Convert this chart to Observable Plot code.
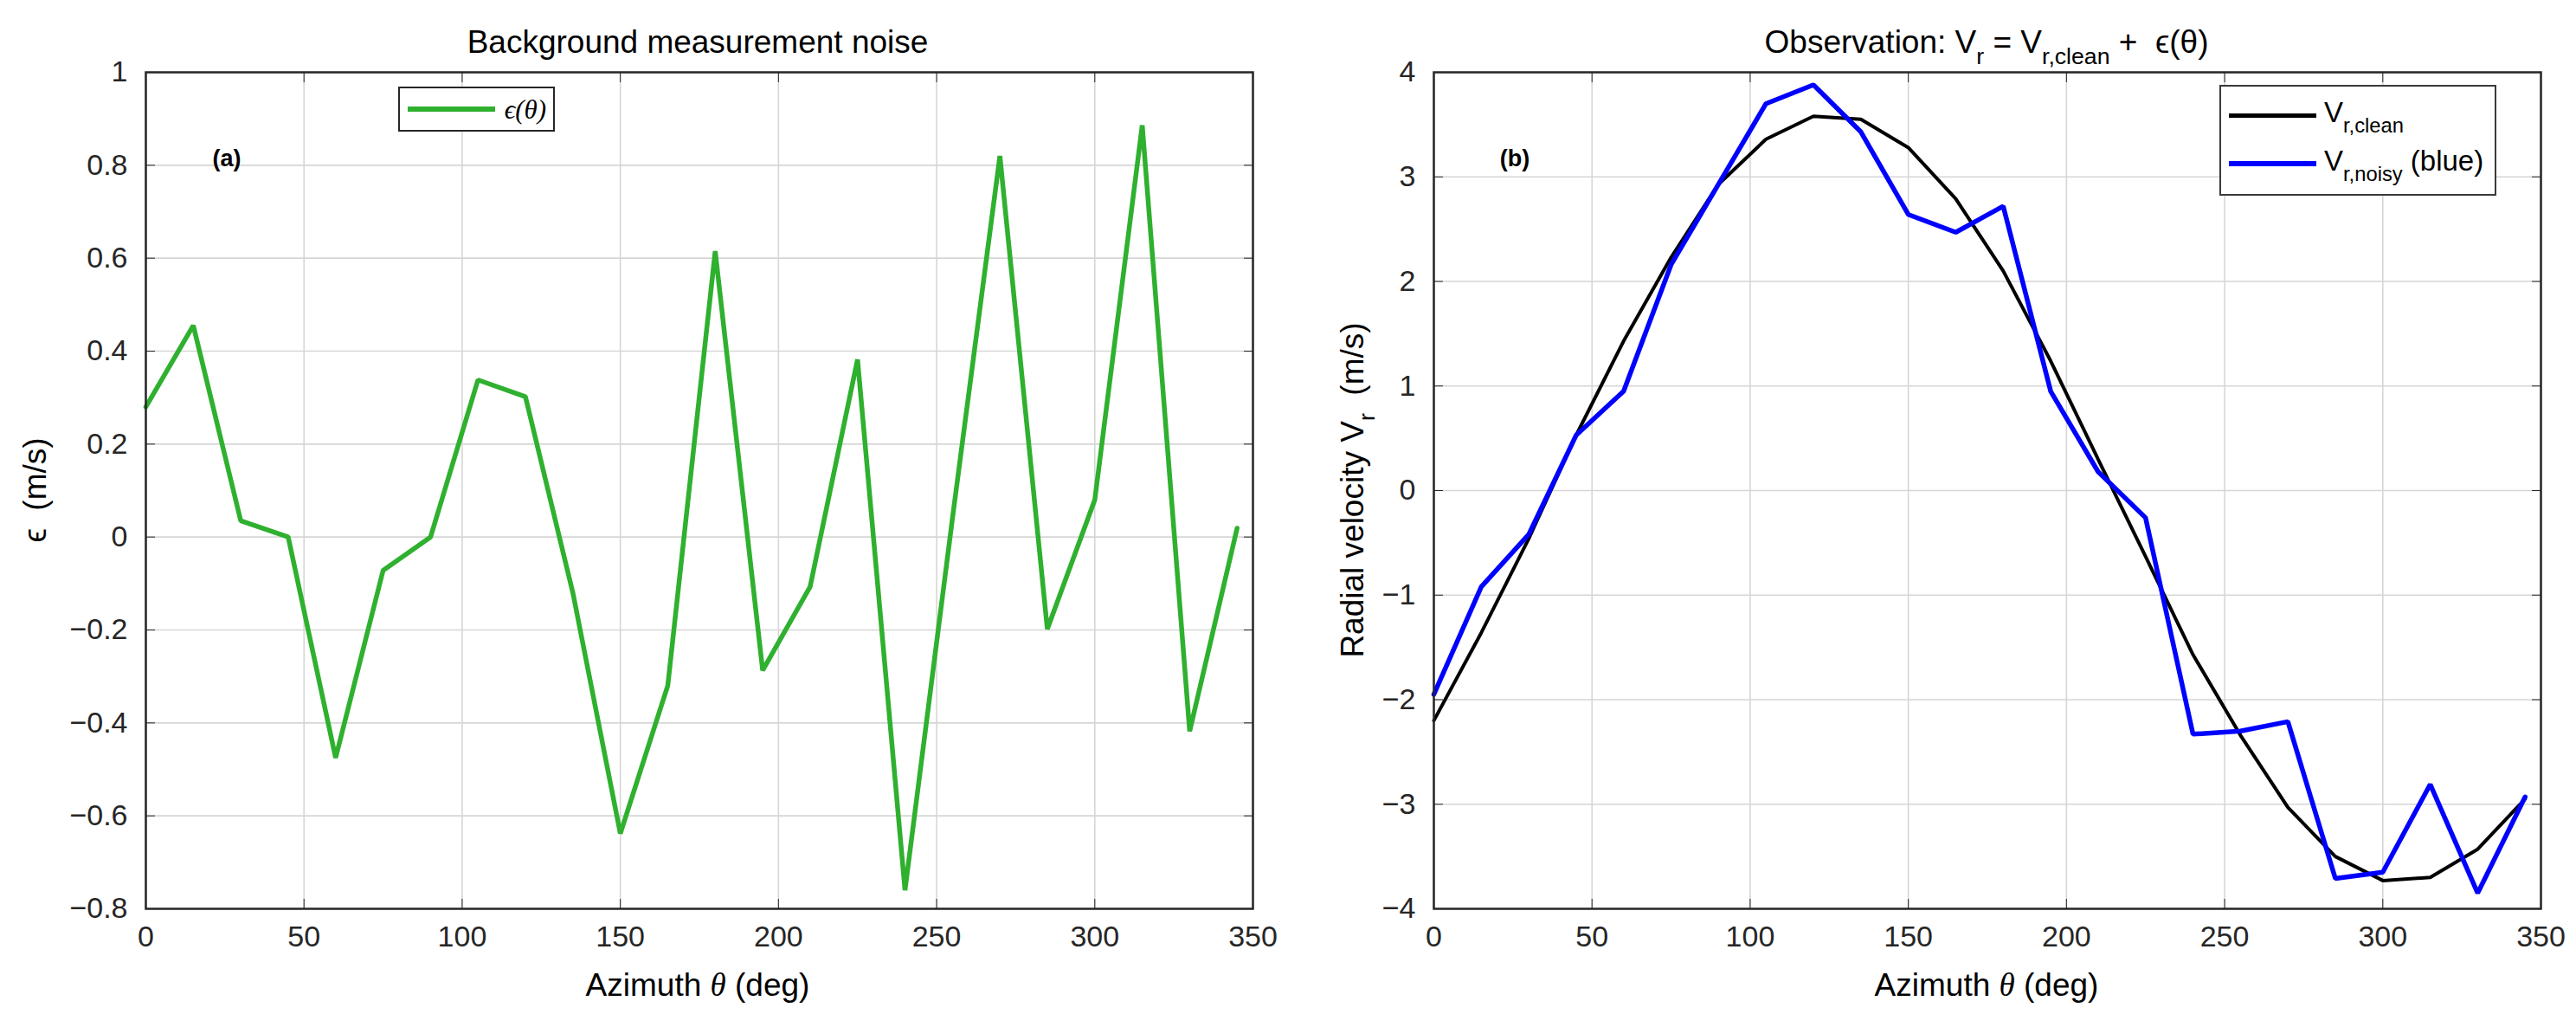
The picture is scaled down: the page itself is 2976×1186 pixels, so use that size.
<!DOCTYPE html>
<html>
<head>
<meta charset="utf-8">
<script src="https://cdn.jsdelivr.net/npm/d3@7"></script>
<script src="https://cdn.jsdelivr.net/npm/@observablehq/plot@0.6"></script>
<style>
  html, body { margin: 0; padding: 0; background: #fff; }
  #fig { position: relative; width: 2976px; height: 1186px; font-family: "Liberation Sans", Arial, sans-serif; color: #000; }
  #fig svg { position: absolute; top: 0; }
  .t { position: absolute; white-space: nowrap; transform: translate(-50%, -50%); line-height: 1; }
  .t sub { font-size: 0.72em; vertical-align: -0.5em; line-height: 0; }
  .ylab { transform: translate(-50%, -50%) rotate(-90deg); }
  .leg { position: absolute; background: #fff; border: 2.5px solid #262626; box-sizing: border-box; }
  .sw { position: absolute; }
</style>
</head>
<body>
<div id="fig"></div>
<script>
// azimuth sampling (deg)
const azimuth = [0, 15, 30, 45, 60, 75, 90, 105, 120, 135, 150, 165,
                 180, 195, 210, 225, 240, 255, 270, 285, 300, 315, 330, 345];
// (a) background noise epsilon(theta), m/s
const noise = [0.28, 0.455, 0.035, 0.0, -0.475, -0.072, 0.0, 0.338, 0.302, -0.12, -0.638, -0.32,
               0.615, -0.287, -0.107, 0.382, -0.76, 0.04, 0.82, -0.198, 0.08, 0.886, -0.418, 0.019];
// (b) radial velocity, m/s
const vrClean = [-2.2, -1.36, -0.46, 0.53, 1.43, 2.23, 2.93, 3.36, 3.58, 3.55, 3.28, 2.79,
                 2.1, 1.24, 0.3, -0.63, -1.57, -2.34, -3.03, -3.5, -3.73, -3.7, -3.43, -2.95];
const vrNoisy = [-1.95, -0.92, -0.42, 0.53, 0.95, 2.16, 2.93, 3.7, 3.88, 3.43, 2.64, 2.47,
                 2.72, 0.95, 0.18, -0.26, -2.33, -2.3, -2.21, -3.71, -3.65, -2.81, -3.85, -2.93];

const xTicks = [0, 50, 100, 150, 200, 250, 300, 350];
const yTicksA = [-0.8, -0.6, -0.4, -0.2, 0, 0.2, 0.4, 0.6, 0.8, 1];
const yTicksB = [-4, -3, -2, -1, 0, 1, 2, 3, 4];

const AXC = "#262626";
const fmt = (d) => String(d).replace("-", "\u2212");

function panel(series, yDomain, yTicks) {
  return Plot.plot({
    width: 1488, height: 1186,
    marginLeft: 168, marginRight: 41, marginTop: 83, marginBottom: 137,
    style: { background: "transparent", fontFamily: "Liberation Sans, Arial, sans-serif", overflow: "visible" },
    x: { domain: [0, 350] },
    y: { domain: yDomain },
    marks: [
      Plot.gridX(xTicks, { stroke: "#d6d6d6", strokeOpacity: 1, strokeWidth: 1.6 }),
      Plot.gridY(yTicks, { stroke: "#d6d6d6", strokeOpacity: 1, strokeWidth: 1.6 }),
      ...series.map((s) => Plot.line(azimuth.map((a, i) => ({ a, v: s.values[i] })), {
        x: "a", y: "v", stroke: s.color, strokeWidth: s.width, strokeLinejoin: "miter"
      })),
      Plot.axisX(xTicks, { anchor: "bottom", tickSize: -11, tickPadding: 30, fontSize: 34,
        tickFormat: fmt, color: AXC, label: null }),
      Plot.axisX(xTicks, { anchor: "top", tickSize: -11, tickFormat: () => "", color: AXC, label: null }),
      Plot.axisY(yTicks, { anchor: "left", tickSize: -11, tickPadding: 32, fontSize: 34,
        tickFormat: fmt, color: AXC, label: null }),
      Plot.axisY(yTicks, { anchor: "right", tickSize: -11, tickFormat: () => "", color: AXC, label: null }),
      Plot.frame({ stroke: AXC, strokeWidth: 2.5 })
    ]
  });
}

const fig = document.getElementById("fig");

const a = panel([{ values: noise, color: "#2fb02f", width: 5.5 }], [-0.8, 1], yTicksA);
a.style.left = "0px";
fig.appendChild(a);

const b = panel([
  { values: vrClean, color: "#000000", width: 4 },
  { values: vrNoisy, color: "#0000ff", width: 5.5 }
], [-4, 4], yTicksB);
b.style.left = "1488px";
fig.appendChild(b);

function txt(html, x, y, css) {
  const d = document.createElement("div");
  d.className = "t" + (css && css.cls ? " " + css.cls : "");
  d.innerHTML = html;
  d.style.left = x + "px";
  d.style.top = y + "px";
  d.style.fontSize = ((css && css.size) || 36) + "px";
  if (css && css.weight) d.style.fontWeight = css.weight;
  if (css && css.family) d.style.fontFamily = css.family;
  fig.appendChild(d);
  return d;
}

function box(cls, x, y, w, h, extra) {
  const d = document.createElement("div");
  d.className = cls;
  Object.assign(d.style, { left: x + "px", top: y + "px", width: w + "px", height: h + "px" }, extra || {});
  fig.appendChild(d);
  return d;
}

// titles
txt("Background measurement noise", 806, 48, { size: 37 });
txt("Observation: V<sub>r</sub> = V<sub>r,clean</sub> +&nbsp; \u03F5(\u03B8)", 2295, 48, { size: 37 });

// axis labels
const thetaI = '<span style="font-family:\'Liberation Serif\',serif;font-style:italic">\u03B8</span>';
txt("Azimuth " + thetaI + " (deg)", 806, 1137, { size: 37 });
txt("Azimuth " + thetaI + " (deg)", 2295, 1137, { size: 37 });
txt("\u03F5 &nbsp;(m/s)", 40, 566, { size: 37, cls: "ylab" });
txt("Radial velocity V<sub>r</sub> &nbsp;(m/s)", 1562, 566, { size: 37, cls: "ylab" });

// panel tags
txt("(a)", 262, 183, { size: 27, weight: 700 });
txt("(b)", 1750, 183, { size: 27, weight: 700 });

// legend (a)
box("leg", 460, 100, 181, 52);
box("sw", 471, 123, 101, 5.5, { background: "#2fb02f" });
txt("\u03F5(\u03B8)", 607, 126, { size: 31, family: "'Liberation Serif', serif", cls: "" }).style.fontStyle = "italic";

// legend (b)
box("leg", 2564, 98, 320, 128, { borderColor: "#3a3a3a" });
box("sw", 2575, 131, 101, 5, { background: "#000" });
box("sw", 2575, 186, 101, 6, { background: "#0000ff" });
const l1 = txt("V<sub>r,clean</sub>", 2685, 133, { size: 33 });
l1.style.transform = "translate(0,-60%)";
const l2 = txt("V<sub>r,noisy</sub> (blue)", 2685, 189, { size: 33 });
l2.style.transform = "translate(0,-60%)";
</script>
</body>
</html>
